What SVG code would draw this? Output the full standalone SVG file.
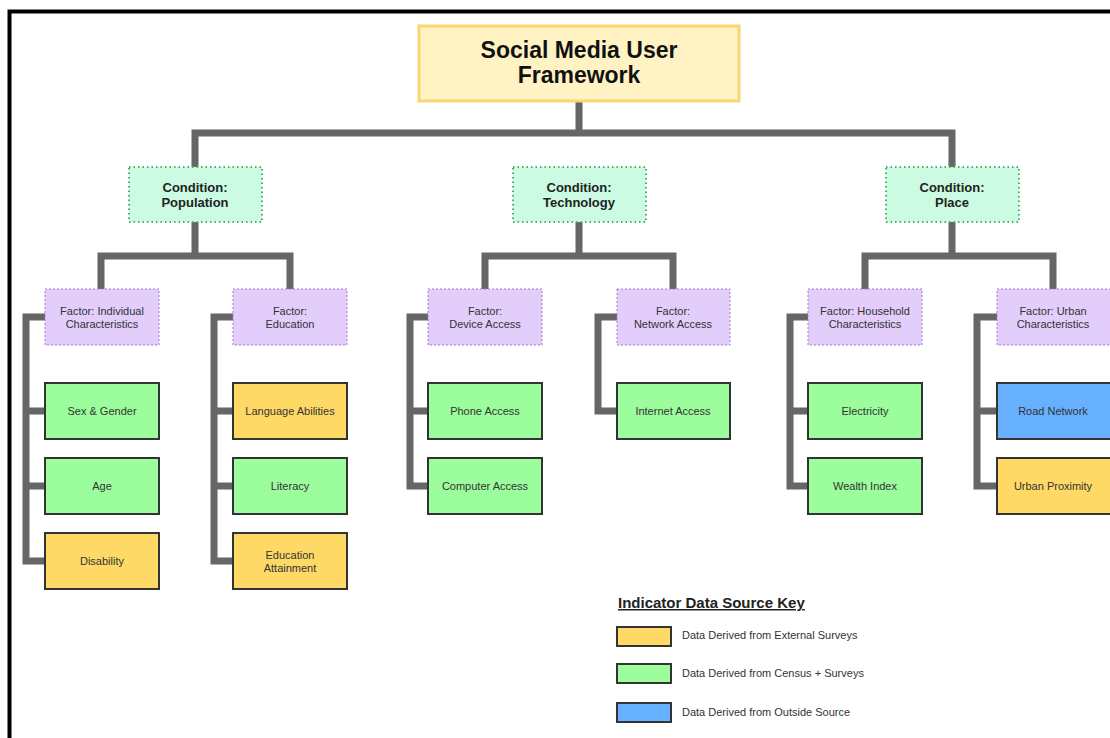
<svg xmlns="http://www.w3.org/2000/svg" width="1110" height="738" viewBox="0 0 1110 738">
<style>
.t{font-family:"Liberation Sans",Arial,sans-serif;fill:#333;text-anchor:middle}
.title{font-size:23px;font-weight:bold;fill:#111}
.cond{font-size:13px;font-weight:bold;fill:#222}
.fac{font-size:11px}
.leaf{font-size:11px}
.conn{fill:none;stroke:#666;stroke-width:7;stroke-linejoin:miter}
.cbox{fill:#ccfbe3;stroke:#4caf64;stroke-width:2;stroke-dasharray:1.5 3}
.fbox{fill:#e2cdfb;stroke:#a678c8;stroke-width:1;stroke-dasharray:2 2}
.g{fill:#9bfd9b;stroke:#333;stroke-width:2}
.o{fill:#ffd966;stroke:#333;stroke-width:2}
.b{fill:#66b0ff;stroke:#333;stroke-width:2}
.key{font-family:"Liberation Sans",Arial,sans-serif;font-size:11px;fill:#333}
</style>
<rect width="1110" height="738" fill="#fff"/>
<path d="M9.5,738 V11.5 H1110" fill="none" stroke="#000" stroke-width="4"/>

<g id="connectors">
<path class="conn" d="M579,101 V133 M195,167 V133 H952 V167"/>
<path class="conn" d="M195,222 V256 M101,289 V256 H290 V289"/>
<path class="conn" d="M579,222 V256 M485,289 V256 H673 V289"/>
<path class="conn" d="M952,222 V256 M865,289 V256 H1053 V289"/>
<path class="conn" d="M45,317 H26 V561 H45 M26,411 H45 M26,486 H45"/>
<path class="conn" d="M233,317 H214 V561 H233 M214,411 H233 M214,486 H233"/>
<path class="conn" d="M428,317 H410 V486 H428 M410,411 H428"/>
<path class="conn" d="M617,317 H598 V411 H617"/>
<path class="conn" d="M808,317 H790 V486 H808 M790,411 H808"/>
<path class="conn" d="M997,317 H977 V486 H997 M977,411 H997"/>
</g>

<g id="root">
<rect x="419" y="26" width="320" height="75" fill="#fff3c4" stroke="#f7d774" stroke-width="3"/>
<text class="t title" x="579" y="58">Social Media User</text>
<text class="t title" x="579" y="83">Framework</text>
</g>

<g id="cond-population">
<rect class="cbox" x="129" y="167" width="133" height="55"/>
<text class="t cond" x="195" y="192">Condition:</text>
<text class="t cond" x="195" y="207">Population</text>
</g>
<g id="cond-technology">
<rect class="cbox" x="513" y="167" width="133" height="55"/>
<text class="t cond" x="579" y="192">Condition:</text>
<text class="t cond" x="579" y="207">Technology</text>
</g>
<g id="cond-place">
<rect class="cbox" x="886" y="167" width="133" height="55"/>
<text class="t cond" x="952" y="192">Condition:</text>
<text class="t cond" x="952" y="207">Place</text>
</g>

<g id="fac-individual">
<rect class="fbox" x="45" y="289" width="114" height="56"/>
<text class="t fac" x="102" y="315">Factor: Individual</text>
<text class="t fac" x="102" y="328">Characteristics</text>
</g>
<g id="fac-education">
<rect class="fbox" x="233" y="289" width="114" height="56"/>
<text class="t fac" x="290" y="315">Factor:</text>
<text class="t fac" x="290" y="328">Education</text>
</g>
<g id="fac-device">
<rect class="fbox" x="428" y="289" width="114" height="56"/>
<text class="t fac" x="485" y="315">Factor:</text>
<text class="t fac" x="485" y="328">Device Access</text>
</g>
<g id="fac-network">
<rect class="fbox" x="617" y="289" width="113" height="56"/>
<text class="t fac" x="673" y="315">Factor:</text>
<text class="t fac" x="673" y="328">Network Access</text>
</g>
<g id="fac-household">
<rect class="fbox" x="808" y="289" width="114" height="56"/>
<text class="t fac" x="865" y="315">Factor: Household</text>
<text class="t fac" x="865" y="328">Characteristics</text>
</g>
<g id="fac-urban">
<rect class="fbox" x="997" y="289" width="114" height="56"/>
<text class="t fac" x="1053" y="315">Factor: Urban</text>
<text class="t fac" x="1053" y="328">Characteristics</text>
</g>

<g id="leaf-sex"><rect class="g" x="45" y="383" width="114" height="56"/><text class="t leaf" x="102" y="415">Sex &amp; Gender</text></g>
<g id="leaf-age"><rect class="g" x="45" y="458" width="114" height="56"/><text class="t leaf" x="102" y="490">Age</text></g>
<g id="leaf-disability"><rect class="o" x="45" y="533" width="114" height="56"/><text class="t leaf" x="102" y="565">Disability</text></g>

<g id="leaf-language"><rect class="o" x="233" y="383" width="114" height="56"/><text class="t leaf" x="290" y="415">Language Abilities</text></g>
<g id="leaf-literacy"><rect class="g" x="233" y="458" width="114" height="56"/><text class="t leaf" x="290" y="490">Literacy</text></g>
<g id="leaf-attainment"><rect class="o" x="233" y="533" width="114" height="56"/><text class="t leaf" x="290" y="559">Education</text><text class="t leaf" x="290" y="572">Attainment</text></g>

<g id="leaf-phone"><rect class="g" x="428" y="383" width="114" height="56"/><text class="t leaf" x="485" y="415">Phone Access</text></g>
<g id="leaf-computer"><rect class="g" x="428" y="458" width="114" height="56"/><text class="t leaf" x="485" y="490">Computer Access</text></g>

<g id="leaf-internet"><rect class="g" x="617" y="383" width="113" height="56"/><text class="t leaf" x="673" y="415">Internet Access</text></g>

<g id="leaf-electricity"><rect class="g" x="808" y="383" width="114" height="56"/><text class="t leaf" x="865" y="415">Electricity</text></g>
<g id="leaf-wealth"><rect class="g" x="808" y="458" width="114" height="56"/><text class="t leaf" x="865" y="490">Wealth Index</text></g>

<g id="leaf-road"><rect class="b" x="997" y="383" width="114" height="56"/><text class="t leaf" x="1053" y="415">Road Network</text></g>
<g id="leaf-proximity"><rect class="o" x="997" y="458" width="114" height="56"/><text class="t leaf" x="1053" y="490">Urban Proximity</text></g>

<g id="legend">
<text x="618" y="608" font-family="Liberation Sans,Arial,sans-serif" font-size="15" font-weight="bold" fill="#222" text-decoration="underline">Indicator Data Source Key</text>
<rect class="o" x="617" y="627" width="54" height="19"/>
<text class="key" x="682" y="639">Data Derived from External Surveys</text>
<rect class="g" x="617" y="664" width="54" height="19"/>
<text class="key" x="682" y="677">Data Derived from Census + Surveys</text>
<rect class="b" x="617" y="703" width="54" height="19"/>
<text class="key" x="682" y="716">Data Derived from Outside Source</text>
</g>
</svg>
